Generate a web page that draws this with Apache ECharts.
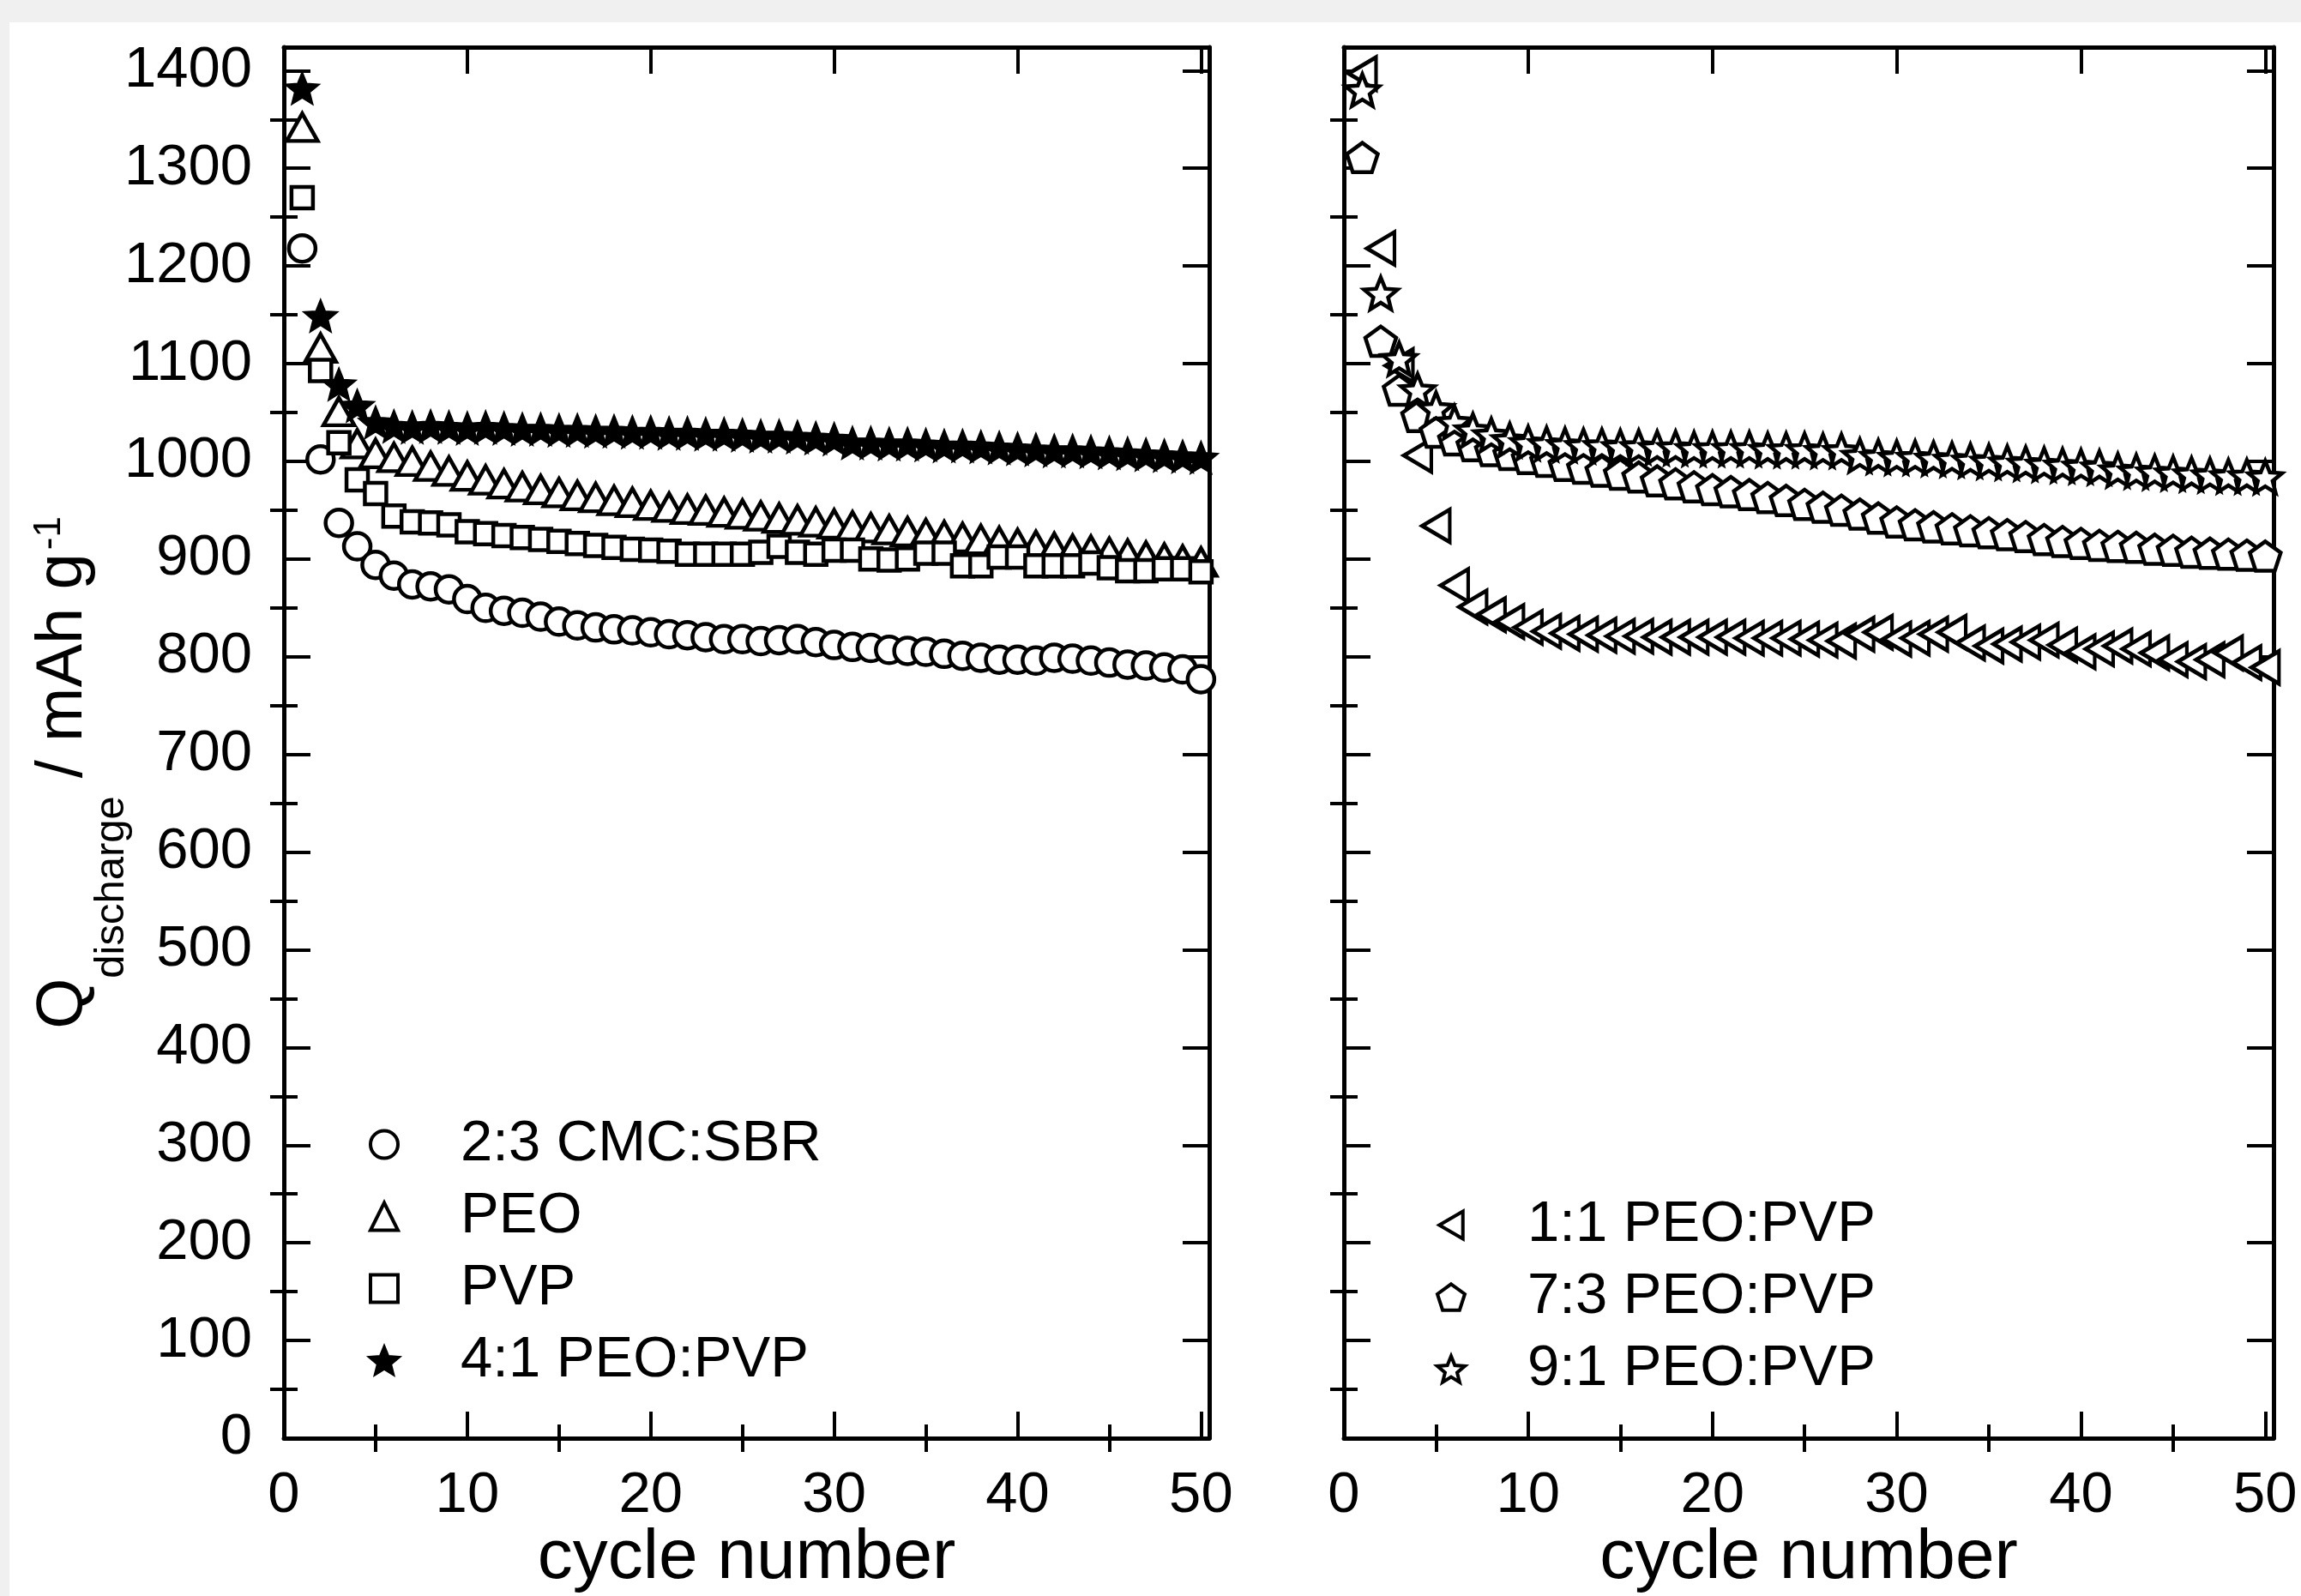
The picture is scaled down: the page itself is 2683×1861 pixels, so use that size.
<!DOCTYPE html>
<html>
<head>
<meta charset="utf-8">
<script src="https://cdn.jsdelivr.net/npm/echarts@6/dist/echarts.min.js"></script>
<style>
html,body{margin:0;padding:0;background:#ffffff;overflow:hidden;}
#stripTop{position:absolute;left:0;top:0;width:2683px;height:26px;background:#f0f0f0;}
#stripLeft{position:absolute;left:0;top:0;width:11px;height:1861px;background:#f0f0f0;}
#chart{position:absolute;left:0;top:0;width:2683px;height:1861px;}
</style>
</head>
<body>
<div id="stripTop"></div>
<div id="stripLeft"></div>
<div id="chart"></div>
<script>
// ---------- data ----------
const cycles = [1,2,3,4,5,6,7,8,9,10,11,12,13,14,15,16,17,18,19,20,21,22,23,24,25,
  26,27,28,29,30,31,32,33,34,35,36,37,38,39,40,41,42,43,44,45,46,47,48,49,50];

const xTickValues = [0, 10, 20, 30, 40, 50];
const xMinorValues = [5, 15, 25, 35, 45];
const yTickValues = [0,100,200,300,400,500,600,700,800,900,1000,1100,1200,1300,1400];
const yMinorValues = [50,150,250,350,450,550,650,750,850,950,1050,1150,1250,1350];

// left panel
const cmcSbr = [1218,1002,937,913,894,883,874,872,869,859,
  850,847,845,841,836,832,830,828,827,825,
  823,822,820,818,818,816,817,818,815,812,
  810,809,807,806,805,803,801,799,797,797,
  796,799,798,796,794,792,791,789,787,777];
const peo = [1342,1116,1051,1018,1008,1004,1000,995,990,985,
  981,977,974,971,968,965,963,960,958,955,
  953,951,950,948,946,944,942,940,938,936,
  934,932,930,928,926,924,922,920,918,916,
  914,912,910,909,907,905,903,901,899,897];
const pvp = [1270,1093,1019,981,967,944,938,937,935,928,
  926,924,922,920,918,916,914,912,910,909,
  908,905,905,905,905,907,913,907,905,909,
  909,900,899,900,906,906,893,893,902,902,
  893,893,893,896,891,888,888,890,890,887];
const peoPvp41 = [1382,1149,1079,1057,1040,1036,1035,1036,1035,1034,
  1035,1034,1033,1033,1032,1032,1031,1031,1030,1030,
  1029,1029,1028,1028,1027,1026,1026,1025,1024,1023,
  1019,1019,1018,1018,1017,1016,1016,1015,1014,1013,
  1012,1011,1011,1010,1009,1008,1007,1006,1005,1004];

// right panel
const peoPvp11 = [1397,1218,1098,1006,934,873,851,843,836,830,
  826,824,823,822,821,821,820,820,820,820,
  820,819,819,819,818,817,816,823,825,818,
  819,823,825,814,811,813,815,817,812,805,
  808,811,808,804,797,795,797,804,794,789];
const peoPvp73 = [1311,1123,1073,1046,1030,1022,1016,1011,1007,1003,
  1000,996,993,990,987,984,980,977,974,971,
  969,966,963,960,956,953,950,946,942,938,
  935,933,931,929,927,925,923,920,918,916,
  914,913,912,910,909,907,906,905,904,903];
const peoPvp91 = [1380,1172,1105,1073,1054,1040,1032,1027,1022,1019,
  1018,1017,1016,1016,1015,1015,1014,1014,1013,1013,
  1013,1013,1012,1012,1012,1011,1011,1006,1005,1004,
  1004,1003,1002,1001,1000,999,998,997,996,995,
  994,991,990,989,988,987,986,985,985,984];

const leftNames = ['2:3 CMC:SBR', 'PEO', 'PVP', '4:1 PEO:PVP'];
const rightNames = ['1:1 PEO:PVP', '7:3 PEO:PVP', '9:1 PEO:PVP'];

// ---------- styling ----------
const FONT = 'Liberation Sans, Arial, Helvetica, sans-serif';
const STAR = 'path://M50 0 L62.93 32.2 L97.55 34.55 L70.92 56.8 L79.39 90.45 L50 72 L20.61 90.45 L29.08 56.8 L2.45 34.55 L37.07 32.2 Z';
const PENTAGON = 'path://M50 0 L97.55 34.55 L79.39 90.45 L20.61 90.45 L2.45 34.55 Z';
const LEFT_TRI = 'path://M0 50 L86 0 L86 100 Z';
const X_MAX = 50.45, Y_MAX = 1424;

const grids = [
  {left: 331, top: 55, width: 1079, height: 1622, containLabel: false, outerBoundsMode: 'none'},
  {left: 1567, top: 55, width: 1084, height: 1622, containLabel: false, outerBoundsMode: 'none'}
];

function xAxisPair(gi, position, withLabel) {
  const major = {
    type: 'value', gridIndex: gi, position: position, min: 0, max: X_MAX,
    axisLine: {show: true, onZero: false, lineStyle: {color: '#000', width: 5}},
    axisTick: {show: true, inside: true, length: 31, customValues: xTickValues, lineStyle: {color: '#000', width: 4}},
    axisLabel: {show: withLabel, customValues: xTickValues, margin: 34, fontSize: 67, color: '#000', fontFamily: FONT,
      formatter: v => String(v)},
    splitLine: {show: false}
  };
  if (withLabel) {
    major.name = 'cycle number';
    major.nameLocation = 'middle';
    major.nameGap = 99;
    major.nameMoveOverlap = false;
    major.nameTextStyle = {fontSize: 82, color: '#000', fontFamily: FONT};
  }
  const minor = {
    type: 'value', gridIndex: gi, position: position, min: 0, max: X_MAX,
    axisLine: {show: false},
    axisTick: {show: true, inside: true, length: 16, customValues: xMinorValues, lineStyle: {color: '#000', width: 4}},
    axisLabel: {show: false},
    splitLine: {show: false}
  };
  return [major, minor];
}

function yAxisPair(gi, position, withLabel, withName) {
  const major = {
    type: 'value', gridIndex: gi, position: position, min: 0, max: Y_MAX,
    axisLine: {show: true, onZero: false, lineStyle: {color: '#000', width: 5}},
    axisTick: {show: true, inside: true, length: 31, customValues: yTickValues, lineStyle: {color: '#000', width: 4}},
    axisLabel: {show: withLabel, customValues: yTickValues, margin: 37, fontSize: 67, color: '#000', fontFamily: FONT,
      formatter: v => String(v)},
    splitLine: {show: false}
  };
  if (withName) {
    major.name = '{q|Q}{s|discharge}{m| / mAh g}{p|-1}';
    major.nameLocation = 'middle';
    major.nameGap = 195;
    major.nameMoveOverlap = false;
    major.nameTextStyle = {
      color: '#000', fontFamily: FONT,
      padding: [0, 70, 0, 0],
      rich: {
        q: {fontSize: 76, lineHeight: 100, verticalAlign: 'top', fontFamily: FONT, color: '#000'},
        s: {fontSize: 49, lineHeight: 49, verticalAlign: 'top', padding: [70, 0, 0, 0], fontFamily: FONT, color: '#000'},
        m: {fontSize: 76, lineHeight: 100, verticalAlign: 'top', fontFamily: FONT, color: '#000'},
        p: {fontSize: 44, lineHeight: 44, verticalAlign: 'top', padding: [0, 0, 0, 4], fontFamily: FONT, color: '#000'}
      }
    };
  }
  const minor = {
    type: 'value', gridIndex: gi, position: position, min: 0, max: Y_MAX,
    axisLine: {show: false},
    axisTick: {show: true, inside: true, length: 16, customValues: yMinorValues, lineStyle: {color: '#000', width: 4}},
    axisLabel: {show: false},
    splitLine: {show: false}
  };
  return [major, minor];
}

const xAxes = [].concat(
  xAxisPair(0, 'bottom', true), xAxisPair(0, 'top', false),
  xAxisPair(1, 'bottom', true), xAxisPair(1, 'top', false)
);
const yAxes = [].concat(
  yAxisPair(0, 'left', true, true), yAxisPair(0, 'right', false, false),
  yAxisPair(1, 'left', false, false), yAxisPair(1, 'right', false, false)
);

function pairs(vals) { return cycles.map((c, i) => [c, vals[i]]); }

function ser(name, gi, vals, symbol, size, fill, bw, keep) {
  return {
    name: name, type: 'scatter', xAxisIndex: gi * 4, yAxisIndex: gi * 4,
    symbol: symbol, symbolSize: size, symbolKeepAspect: keep !== false,
    itemStyle: {color: fill, borderColor: '#000', borderWidth: bw, opacity: 1},
    emphasis: {disabled: true}, silent: true, clip: true,
    data: pairs(vals)
  };
}

const series = [
  ser(leftNames[0], 0, cmcSbr, 'circle', 31, '#fff', 4.5),
  ser(leftNames[1], 0, peo, 'triangle', [36, 32], '#fff', 4.5),
  ser(leftNames[2], 0, pvp, 'rect', 25, '#fff', 4.5),
  ser(leftNames[3], 0, peoPvp41, STAR, 39, '#000', 2),
  ser(rightNames[0], 1, peoPvp11, LEFT_TRI, [32, 38], '#fff', 4.5, false),
  ser(rightNames[1], 1, peoPvp73, PENTAGON, 36, '#fff', 4.5),
  ser(rightNames[2], 1, peoPvp91, STAR, 39, '#fff', 4.5)
];

function legendCfg(names, left, top) {
  return {
    data: names, orient: 'vertical', left: left, top: top,
    itemWidth: 32, itemHeight: 32, itemGap: 17, selectedMode: false,
    itemStyle: {borderWidth: 4},
    formatter: name => '{t|' + name + '}',
    textStyle: {
      fontSize: 67, color: '#000', fontFamily: FONT,
      rich: {t: {fontSize: 67, lineHeight: 70, padding: [0, 0, 0, 68], color: '#000', fontFamily: FONT}}
    }
  };
}

const chart = echarts.init(document.getElementById('chart'), null, {renderer: 'canvas', width: 2683, height: 1861});
chart.setOption({
  backgroundColor: 'transparent',
  animation: false,
  grid: grids,
  xAxis: xAxes,
  yAxis: yAxes,
  legend: [legendCfg(leftNames, 425, 1296), legendCfg(rightNames, 1669, 1390)],
  series: series
});
</script>
</body>
</html>
